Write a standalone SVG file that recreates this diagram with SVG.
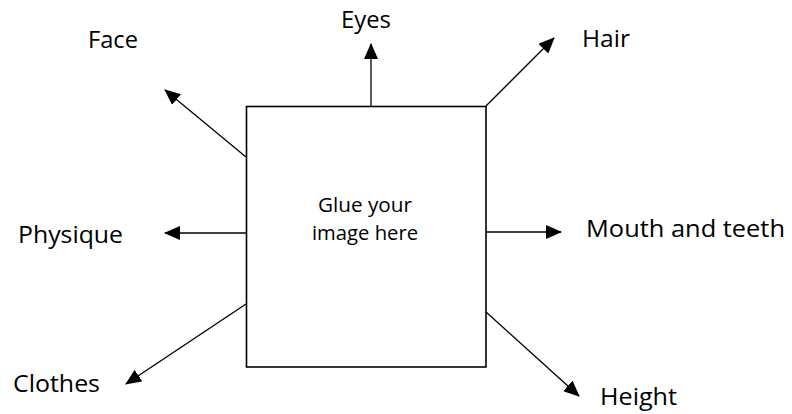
<svg xmlns="http://www.w3.org/2000/svg" width="792" height="414" viewBox="0 0 792 414">
<style>
.lbl{font-family:"Open Sans","Noto Sans","Liberation Sans",sans-serif;font-size:24px;fill:#000}
.in{font-family:"Open Sans","Noto Sans","Liberation Sans",sans-serif;font-size:20px;fill:#000}
.conn line{stroke:#000;stroke-width:1.3;marker-end:url(#ah)}
</style>
<defs>
<marker id="ah" markerUnits="userSpaceOnUse" markerWidth="16" markerHeight="14" refX="15" refY="7" orient="auto" viewBox="0 0 16 14">
<path d="M0,0 L16,7 L0,14 Z" fill="#000"/>
</marker>
</defs>
<rect width="792" height="414" fill="#fff"/>
<g id="box">
<rect x="246.5" y="106.5" width="239.5" height="260.5" fill="#fff" stroke="#000" stroke-width="1.6"/>
<text class="in" x="365" y="212" text-anchor="middle" textLength="94" lengthAdjust="spacingAndGlyphs">Glue your</text>
<text class="in" x="365" y="240" text-anchor="middle" textLength="106" lengthAdjust="spacingAndGlyphs">image here</text>
</g>
<g class="conn" id="connectors">
<line x1="246" y1="157" x2="165" y2="90"/>
<line x1="371" y1="106" x2="371" y2="44"/>
<line x1="486" y1="106" x2="554" y2="38"/>
<line x1="246" y1="233" x2="165" y2="233"/>
<line x1="486" y1="232" x2="561" y2="232"/>
<line x1="246" y1="304" x2="126" y2="384"/>
<line x1="486" y1="312" x2="579" y2="396"/>
</g>
<g id="face"><text class="lbl" x="88" y="48" textLength="50" lengthAdjust="spacingAndGlyphs">Face</text></g>
<g id="eyes"><text class="lbl" x="341" y="28" textLength="50" lengthAdjust="spacingAndGlyphs">Eyes</text></g>
<g id="hair"><text class="lbl" x="582" y="47" textLength="48" lengthAdjust="spacingAndGlyphs">Hair</text></g>
<g id="physique"><text class="lbl" x="18" y="243" textLength="105" lengthAdjust="spacingAndGlyphs">Physique</text></g>
<g id="mouth"><text class="lbl" x="586" y="237" textLength="199" lengthAdjust="spacingAndGlyphs">Mouth and teeth</text></g>
<g id="clothes"><text class="lbl" x="13" y="392" textLength="87" lengthAdjust="spacingAndGlyphs">Clothes</text></g>
<g id="height"><text class="lbl" x="600" y="405" textLength="77" lengthAdjust="spacingAndGlyphs">Height</text></g>
</svg>
